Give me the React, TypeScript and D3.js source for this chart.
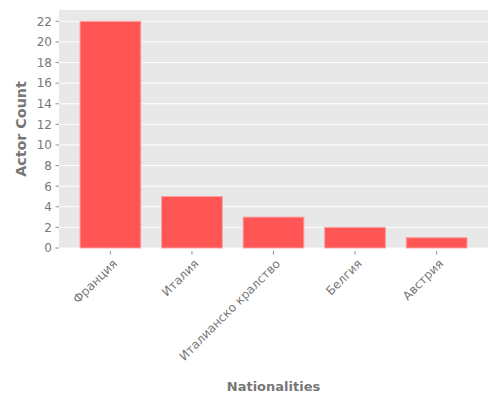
import React from 'react';
import * as d3 from 'd3';

const nationalities = ['Франция', 'Италия', 'Италианско кралство', 'Белгия', 'Австрия'];
const actorCounts = [22, 5, 3, 2, 1];
const yTicks = [0, 2, 4, 6, 8, 10, 12, 14, 16, 18, 20, 22];

const width = 500;
const height = 400;
const margin = { top: 10, right: 12, bottom: 152, left: 59 };
const innerW = width - margin.left - margin.right;
const innerH = height - margin.top - margin.bottom;

const App: React.FC = () => {
  const x = d3.scaleBand<string>()
    .domain(nationalities)
    .range([0, innerW])
    .paddingInner(0.255)
    .paddingOuter(0.2575);

  const y = d3.scaleLinear()
    .domain([0, d3.max(actorCounts)! * 1.05])
    .range([innerH, 0]);

  const font = 'DejaVu Sans, sans-serif';
  const tickColor = '#777777';
  const labelColor = '#777777';

  return (
    <div style={{ position: 'absolute', left: 0, top: 0 }}>
      <svg width={width} height={height} style={{ display: 'block', background: '#fff' }}>
        <g transform={`translate(${margin.left},${margin.top})`}>
          <rect width={innerW} height={innerH} fill="#e8e8e8" />

          {/* horizontal grid */}
          {yTicks.map(t => (
            <line key={t} x1={0} x2={innerW} y1={y(t)} y2={y(t)} stroke="#ffffff" strokeWidth={1} />
          ))}

          {/* bars */}
          {nationalities.map((n, i) => (
            <rect
              key={n}
              x={x(n)!}
              y={y(actorCounts[i])}
              width={x.bandwidth()}
              height={innerH - y(actorCounts[i])}
              fill="#ff5555"
              stroke="#f7a3a3"
              strokeWidth={1}
            />
          ))}

          {/* y axis */}
          {yTicks.map(t => (
            <g key={t} transform={`translate(0,${y(t)})`}>
              <line x1={-3.5} x2={0} stroke={tickColor} strokeWidth={0.8} />
              <text
                x={-7}
                dy="0.36em"
                textAnchor="end"
                fontFamily={font}
                fontSize={12}
                fill={tickColor}
              >
                {t}
              </text>
            </g>
          ))}

          {/* x axis */}
          {nationalities.map(n => {
            const cx = x(n)! + x.bandwidth() / 2;
            return (
              <g key={n} transform={`translate(${cx},${innerH})`}>
                <line y1={3} y2={6.5} stroke={tickColor} strokeWidth={0.8} />
                <text
                  transform="translate(1,10) rotate(-45)"
                  dy="0.76em"
                  textAnchor="end"
                  fontFamily={font}
                  fontSize={12}
                  fill={tickColor}
                >
                  {n}
                </text>
              </g>
            );
          })}

          <text
            x={innerW / 2}
            y={381}
            textAnchor="middle"
            fontFamily={font}
            fontSize={13}
            fontWeight="bold"
            fill={labelColor}
          >
            Nationalities
          </text>
          <text
            transform={`translate(${-33},${innerH / 2}) rotate(-90)`}
            textAnchor="middle"
            fontFamily={font}
            fontSize={14.3}
            fontWeight="bold"
            fill={labelColor}
          >
            Actor Count
          </text>
        </g>
      </svg>
    </div>
  );
};

export default App;
